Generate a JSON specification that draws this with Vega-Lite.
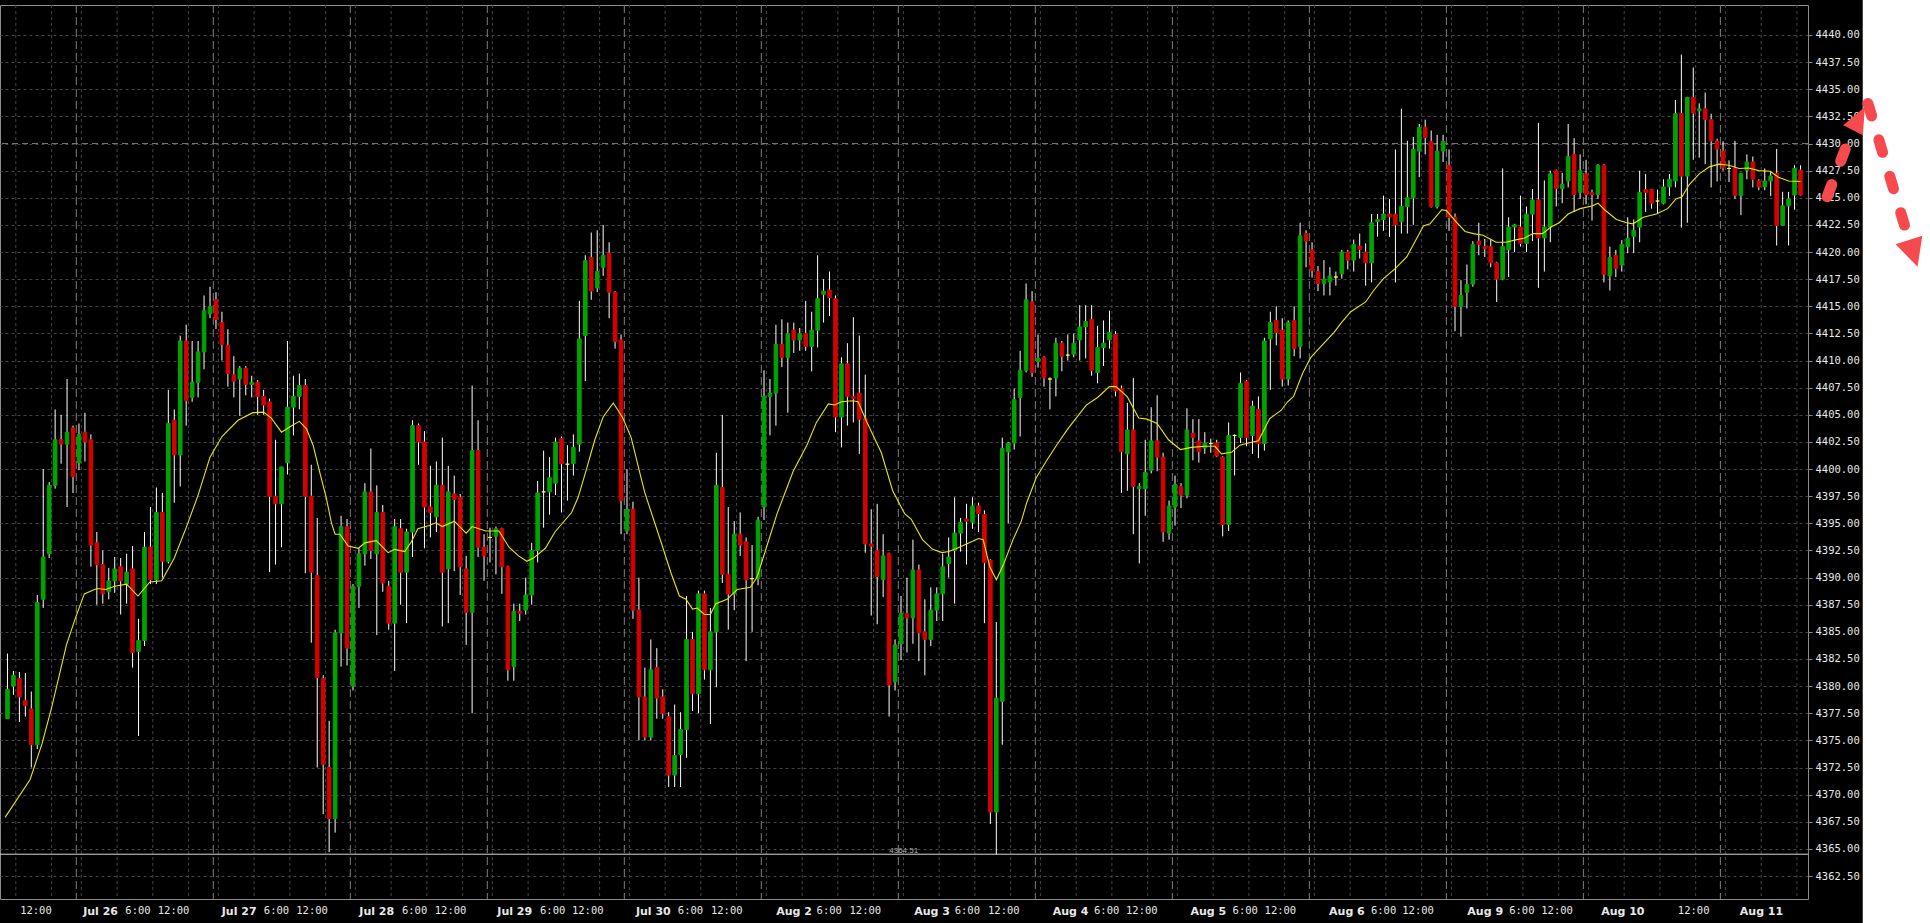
{
"$schema":"https://vega.github.io/schema/vega-lite/v6.json",
"width":1808,"height":894,
"autosize":{"type":"none"},
"padding":{"left":0,"top":5,"right":122,"bottom":24},
"background":"#000000",
"view":{"stroke":"#8c8c8c","strokeWidth":1,"fill":"#000000"},
"config":{
 "axis":{"labelOverlap":false,"labelBound":false,"labelFlush":false},
 "axisX":{"grid":false,"ticks":false,"tickSize":0,"domain":false,"labelAlign":"left","labelBaseline":"top","labelPadding":6,"labelColor":"#e8e8e8","labelFont":"DejaVu Sans Mono","labelFontSize":10.5,"labelOverlap":false},
 "axisY":{"grid":true,"gridColor":"#454545","gridDash":[3,3],"gridWidth":1,"ticks":true,"tickSize":4,"tickColor":"#8c8c8c","labelPadding":3,"labelFont":"DejaVu Sans Mono","labelFontSize":10.5,"labelColor":"#e8e8e8","domain":false,"labelOverlap":false}
},
"datasets":{
"candles":[
{"i":0,"o":4377.0,"h":4383.0,"l":4377.0,"c":4379.7},
{"i":1,"o":4380.0,"h":4381.4,"l":4379.2,"c":4381.0},
{"i":2,"o":4380.7,"h":4381.3,"l":4376.7,"c":4379.0},
{"i":3,"o":4378.7,"h":4381.2,"l":4377.2,"c":4378.2},
{"i":4,"o":4377.9,"h":4379.5,"l":4372.5,"c":4374.6},
{"i":5,"o":4374.6,"h":4388.4,"l":4374.2,"c":4387.7},
{"i":6,"o":4388.0,"h":4400.0,"l":4387.2,"c":4391.9},
{"i":7,"o":4392.2,"h":4398.8,"l":4391.8,"c":4398.5},
{"i":8,"o":4398.5,"h":4405.5,"l":4398.2,"c":4402.7},
{"i":9,"o":4402.7,"h":4405.0,"l":4400.5,"c":4402.3},
{"i":10,"o":4402.3,"h":4408.3,"l":4396.5,"c":4403.4},
{"i":11,"o":4403.8,"h":4404.0,"l":4397.8,"c":4399.3},
{"i":12,"o":4400.6,"h":4404.2,"l":4399.9,"c":4403.2},
{"i":13,"o":4403.4,"h":4405.2,"l":4400.7,"c":4402.5},
{"i":14,"o":4402.7,"h":4403.2,"l":4391.0,"c":4393.0},
{"i":15,"o":4393.2,"h":4394.2,"l":4387.5,"c":4391.2},
{"i":16,"o":4391.2,"h":4392.5,"l":4387.6,"c":4388.5},
{"i":17,"o":4388.7,"h":4390.9,"l":4388.0,"c":4389.7},
{"i":18,"o":4389.7,"h":4391.9,"l":4388.6,"c":4390.8},
{"i":19,"o":4391.0,"h":4391.8,"l":4386.6,"c":4389.7},
{"i":20,"o":4389.4,"h":4392.2,"l":4387.6,"c":4390.5},
{"i":21,"o":4390.8,"h":4392.9,"l":4381.7,"c":4383.1},
{"i":22,"o":4383.2,"h":4386.2,"l":4375.4,"c":4384.2},
{"i":23,"o":4384.2,"h":4394.2,"l":4383.7,"c":4392.8},
{"i":24,"o":4392.8,"h":4396.5,"l":4389.4,"c":4389.8},
{"i":25,"o":4389.8,"h":4398.3,"l":4389.4,"c":4396.0},
{"i":26,"o":4396.0,"h":4397.8,"l":4390.0,"c":4391.5},
{"i":27,"o":4391.5,"h":4407.3,"l":4391.3,"c":4404.2},
{"i":28,"o":4404.5,"h":4405.5,"l":4396.9,"c":4401.3},
{"i":29,"o":4401.3,"h":4412.3,"l":4398.4,"c":4411.8},
{"i":30,"o":4411.8,"h":4413.3,"l":4404.0,"c":4406.3},
{"i":31,"o":4406.6,"h":4411.8,"l":4406.2,"c":4408.0},
{"i":32,"o":4408.0,"h":4411.8,"l":4406.6,"c":4410.8},
{"i":33,"o":4410.8,"h":4416.0,"l":4409.2,"c":4414.6},
{"i":34,"o":4414.3,"h":4416.8,"l":4413.9,"c":4415.0},
{"i":35,"o":4415.6,"h":4416.3,"l":4412.9,"c":4413.8},
{"i":36,"o":4413.5,"h":4414.5,"l":4410.0,"c":4411.5},
{"i":37,"o":4411.4,"h":4412.9,"l":4407.6,"c":4408.8},
{"i":38,"o":4408.7,"h":4410.4,"l":4406.6,"c":4408.1},
{"i":39,"o":4408.3,"h":4409.5,"l":4404.9,"c":4409.3},
{"i":40,"o":4409.3,"h":4409.5,"l":4406.8,"c":4407.8},
{"i":41,"o":4407.8,"h":4408.6,"l":4406.6,"c":4408.0},
{"i":42,"o":4408.0,"h":4408.2,"l":4405.0,"c":4406.7},
{"i":43,"o":4406.7,"h":4407.3,"l":4405.0,"c":4405.9},
{"i":44,"o":4406.2,"h":4406.5,"l":4390.5,"c":4397.5},
{"i":45,"o":4397.5,"h":4402.7,"l":4391.2,"c":4396.8},
{"i":46,"o":4396.8,"h":4400.2,"l":4392.8,"c":4400.2},
{"i":47,"o":4400.6,"h":4411.8,"l":4399.5,"c":4405.7},
{"i":48,"o":4405.7,"h":4408.6,"l":4403.1,"c":4406.7},
{"i":49,"o":4406.7,"h":4408.8,"l":4405.5,"c":4407.7},
{"i":50,"o":4407.7,"h":4408.3,"l":4390.4,"c":4397.5},
{"i":51,"o":4397.5,"h":4400.4,"l":4384.0,"c":4390.5},
{"i":52,"o":4390.2,"h":4395.5,"l":4372.5,"c":4380.8},
{"i":53,"o":4380.7,"h":4381.0,"l":4368.2,"c":4372.8},
{"i":54,"o":4372.5,"h":4376.8,"l":4364.7,"c":4367.8},
{"i":55,"o":4367.8,"h":4385.2,"l":4366.5,"c":4384.9},
{"i":56,"o":4384.9,"h":4395.7,"l":4381.8,"c":4394.7},
{"i":57,"o":4394.7,"h":4395.4,"l":4381.9,"c":4383.5},
{"i":58,"o":4380.0,"h":4389.4,"l":4379.6,"c":4389.2},
{"i":59,"o":4389.2,"h":4392.7,"l":4387.2,"c":4392.2},
{"i":60,"o":4392.2,"h":4398.7,"l":4391.1,"c":4397.9},
{"i":61,"o":4397.9,"h":4401.9,"l":4391.7,"c":4392.5},
{"i":62,"o":4392.2,"h":4398.5,"l":4384.7,"c":4396.0},
{"i":63,"o":4396.0,"h":4396.7,"l":4388.7,"c":4389.5},
{"i":64,"o":4389.2,"h":4389.7,"l":4385.2,"c":4385.8},
{"i":65,"o":4385.8,"h":4395.4,"l":4381.4,"c":4394.7},
{"i":66,"o":4394.5,"h":4395.4,"l":4387.5,"c":4390.5},
{"i":67,"o":4390.5,"h":4394.5,"l":4385.8,"c":4394.2},
{"i":68,"o":4394.2,"h":4404.5,"l":4391.9,"c":4404.0},
{"i":69,"o":4404.0,"h":4404.2,"l":4400.4,"c":4402.5},
{"i":70,"o":4402.5,"h":4403.5,"l":4392.7,"c":4396.5},
{"i":71,"o":4396.5,"h":4400.3,"l":4393.7,"c":4396.0},
{"i":72,"o":4395.6,"h":4400.7,"l":4394.2,"c":4398.5},
{"i":73,"o":4398.5,"h":4402.9,"l":4385.5,"c":4390.5},
{"i":74,"o":4390.8,"h":4400.3,"l":4385.8,"c":4397.9},
{"i":75,"o":4397.7,"h":4399.4,"l":4390.6,"c":4397.2},
{"i":76,"o":4397.4,"h":4397.7,"l":4388.4,"c":4391.0},
{"i":77,"o":4390.8,"h":4392.0,"l":4383.8,"c":4386.8},
{"i":78,"o":4386.8,"h":4407.7,"l":4377.5,"c":4401.7},
{"i":79,"o":4401.7,"h":4404.5,"l":4391.9,"c":4392.8},
{"i":80,"o":4392.8,"h":4394.0,"l":4389.7,"c":4392.0},
{"i":81,"o":4393.7,"h":4394.6,"l":4391.4,"c":4393.7},
{"i":82,"o":4393.8,"h":4394.7,"l":4390.3,"c":4394.5},
{"i":83,"o":4394.5,"h":4394.6,"l":4388.5,"c":4391.0},
{"i":84,"o":4391.0,"h":4391.1,"l":4380.5,"c":4381.5},
{"i":85,"o":4381.8,"h":4387.6,"l":4380.5,"c":4386.9},
{"i":86,"o":4386.9,"h":4387.6,"l":4386.0,"c":4386.7},
{"i":87,"o":4387.0,"h":4390.0,"l":4386.6,"c":4388.4},
{"i":88,"o":4388.4,"h":4393.2,"l":4387.5,"c":4392.5},
{"i":89,"o":4392.5,"h":4398.9,"l":4391.4,"c":4397.8},
{"i":90,"o":4397.9,"h":4401.7,"l":4394.6,"c":4397.9},
{"i":91,"o":4397.9,"h":4401.1,"l":4395.8,"c":4399.2},
{"i":92,"o":4398.7,"h":4402.9,"l":4397.6,"c":4402.5},
{"i":93,"o":4402.8,"h":4403.0,"l":4396.0,"c":4400.5},
{"i":94,"o":4400.45,"h":4402.2,"l":4397.1,"c":4400.45},
{"i":95,"o":4400.5,"h":4403.2,"l":4399.4,"c":4402.0},
{"i":96,"o":4402.3,"h":4415.5,"l":4401.6,"c":4412.0},
{"i":97,"o":4412.3,"h":4419.7,"l":4408.1,"c":4419.2},
{"i":98,"o":4419.5,"h":4421.8,"l":4415.6,"c":4416.4},
{"i":99,"o":4416.7,"h":4422.0,"l":4416.3,"c":4418.2},
{"i":100,"o":4418.6,"h":4422.5,"l":4417.8,"c":4419.7},
{"i":101,"o":4419.9,"h":4420.9,"l":4413.9,"c":4416.3},
{"i":102,"o":4416.3,"h":4416.4,"l":4411.1,"c":4411.75},
{"i":103,"o":4411.9,"h":4412.4,"l":4394.0,"c":4397.1},
{"i":104,"o":4394.3,"h":4400.0,"l":4394.0,"c":4396.3},
{"i":105,"o":4396.3,"h":4397.0,"l":4386.2,"c":4387.0},
{"i":106,"o":4387.0,"h":4390.0,"l":4375.0,"c":4379.0},
{"i":107,"o":4379.0,"h":4381.7,"l":4375.0,"c":4375.3},
{"i":108,"o":4375.3,"h":4384.3,"l":4375.0,"c":4381.5},
{"i":109,"o":4381.7,"h":4383.5,"l":4377.0,"c":4378.9},
{"i":110,"o":4379.0,"h":4379.7,"l":4377.0,"c":4377.5},
{"i":111,"o":4377.2,"h":4377.6,"l":4370.7,"c":4371.8},
{"i":112,"o":4371.8,"h":4378.3,"l":4370.7,"c":4373.6},
{"i":113,"o":4373.7,"h":4377.6,"l":4370.7,"c":4376.0},
{"i":114,"o":4376.0,"h":4388.3,"l":4373.4,"c":4384.3},
{"i":115,"o":4384.3,"h":4385.0,"l":4377.7,"c":4379.3},
{"i":116,"o":4379.3,"h":4388.8,"l":4377.5,"c":4388.5},
{"i":117,"o":4388.5,"h":4388.8,"l":4380.6,"c":4381.5},
{"i":118,"o":4381.5,"h":4387.2,"l":4376.5,"c":4385.0},
{"i":119,"o":4385.0,"h":4401.5,"l":4379.9,"c":4398.5},
{"i":120,"o":4398.3,"h":4405.0,"l":4389.5,"c":4390.3},
{"i":121,"o":4390.3,"h":4396.5,"l":4385.2,"c":4388.5},
{"i":122,"o":4388.5,"h":4395.2,"l":4387.0,"c":4394.0},
{"i":123,"o":4394.0,"h":4396.0,"l":4392.0,"c":4393.0},
{"i":124,"o":4393.3,"h":4393.7,"l":4382.3,"c":4389.8},
{"i":125,"o":4389.9,"h":4393.0,"l":4385.0,"c":4389.9},
{"i":126,"o":4389.9,"h":4395.6,"l":4389.3,"c":4395.3},
{"i":127,"o":4396.5,"h":4409.1,"l":4395.3,"c":4406.7},
{"i":128,"o":4406.7,"h":4408.3,"l":4403.1,"c":4407.0},
{"i":129,"o":4407.0,"h":4413.3,"l":4404.0,"c":4411.5},
{"i":130,"o":4411.5,"h":4413.8,"l":4409.4,"c":4410.3},
{"i":131,"o":4410.3,"h":4413.5,"l":4405.2,"c":4412.5},
{"i":132,"o":4412.8,"h":4413.5,"l":4410.7,"c":4411.9},
{"i":133,"o":4411.9,"h":4413.0,"l":4410.9,"c":4412.5},
{"i":134,"o":4412.5,"h":4415.5,"l":4410.9,"c":4411.3},
{"i":135,"o":4411.3,"h":4414.5,"l":4409.0,"c":4412.8},
{"i":136,"o":4412.8,"h":4419.7,"l":4411.2,"c":4415.7},
{"i":137,"o":4416.1,"h":4417.5,"l":4413.5,"c":4416.4},
{"i":138,"o":4416.5,"h":4418.2,"l":4414.1,"c":4415.8},
{"i":139,"o":4415.7,"h":4416.0,"l":4403.4,"c":4404.8},
{"i":140,"o":4404.8,"h":4410.3,"l":4402.0,"c":4409.7},
{"i":141,"o":4409.7,"h":4411.6,"l":4404.0,"c":4406.7},
{"i":142,"o":4406.7,"h":4414.0,"l":4404.3,"c":4406.5},
{"i":143,"o":4407.0,"h":4412.3,"l":4401.4,"c":4404.6},
{"i":144,"o":4404.7,"h":4408.7,"l":4392.3,"c":4393.1},
{"i":145,"o":4393.1,"h":4396.3,"l":4386.5,"c":4392.9},
{"i":146,"o":4392.5,"h":4396.8,"l":4385.7,"c":4390.1},
{"i":147,"o":4389.8,"h":4394.0,"l":4388.2,"c":4392.0},
{"i":148,"o":4392.2,"h":4392.3,"l":4377.2,"c":4380.1},
{"i":149,"o":4380.4,"h":4384.3,"l":4379.6,"c":4383.8},
{"i":150,"o":4383.9,"h":4388.3,"l":4382.4,"c":4386.7},
{"i":151,"o":4386.7,"h":4390.0,"l":4383.1,"c":4386.3},
{"i":152,"o":4386.3,"h":4393.5,"l":4383.9,"c":4390.7},
{"i":153,"o":4390.7,"h":4391.2,"l":4382.3,"c":4384.9},
{"i":154,"o":4385.0,"h":4388.0,"l":4381.0,"c":4384.3},
{"i":155,"o":4384.3,"h":4389.1,"l":4383.7,"c":4387.0},
{"i":156,"o":4387.0,"h":4389.1,"l":4386.0,"c":4388.5},
{"i":157,"o":4388.5,"h":4392.2,"l":4386.0,"c":4391.0},
{"i":158,"o":4391.3,"h":4393.7,"l":4390.0,"c":4391.9},
{"i":159,"o":4392.5,"h":4397.4,"l":4387.6,"c":4394.1},
{"i":160,"o":4394.1,"h":4395.5,"l":4392.4,"c":4395.1},
{"i":161,"o":4395.4,"h":4396.8,"l":4391.2,"c":4395.2},
{"i":162,"o":4395.1,"h":4397.4,"l":4394.5,"c":4396.6},
{"i":163,"o":4396.6,"h":4396.9,"l":4394.2,"c":4395.9},
{"i":164,"o":4395.8,"h":4396.2,"l":4385.8,"c":4391.4},
{"i":165,"o":4391.6,"h":4391.7,"l":4367.3,"c":4368.4},
{"i":166,"o":4368.4,"h":4385.9,"l":4364.51,"c":4378.9},
{"i":167,"o":4378.6,"h":4402.9,"l":4374.6,"c":4401.9},
{"i":168,"o":4401.6,"h":4402.5,"l":4395.0,"c":4402.4},
{"i":169,"o":4402.4,"h":4407.4,"l":4401.8,"c":4406.4},
{"i":170,"o":4406.6,"h":4410.9,"l":4403.0,"c":4409.1},
{"i":171,"o":4409.1,"h":4417.1,"l":4408.9,"c":4415.6},
{"i":172,"o":4415.4,"h":4416.4,"l":4408.5,"c":4408.9},
{"i":173,"o":4409.9,"h":4412.4,"l":4409.35,"c":4410.2},
{"i":174,"o":4410.3,"h":4410.4,"l":4407.6,"c":4408.4},
{"i":175,"o":4408.3,"h":4408.45,"l":4405.5,"c":4408.3},
{"i":176,"o":4408.4,"h":4412.1,"l":4406.7,"c":4411.6},
{"i":177,"o":4411.6,"h":4411.8,"l":4409.0,"c":4410.4},
{"i":178,"o":4410.5,"h":4412.4,"l":4410.0,"c":4410.5},
{"i":179,"o":4410.6,"h":4412.5,"l":4410.3,"c":4411.6},
{"i":180,"o":4411.9,"h":4415.1,"l":4410.0,"c":4413.1},
{"i":181,"o":4413.1,"h":4415.1,"l":4410.2,"c":4413.6},
{"i":182,"o":4413.8,"h":4415.1,"l":4408.6,"c":4409.1},
{"i":183,"o":4408.9,"h":4413.2,"l":4407.9,"c":4411.2},
{"i":184,"o":4411.2,"h":4413.7,"l":4409.5,"c":4411.6},
{"i":185,"o":4411.9,"h":4414.6,"l":4411.1,"c":4412.6},
{"i":186,"o":4412.4,"h":4412.7,"l":4406.7,"c":4407.2},
{"i":187,"o":4407.4,"h":4407.7,"l":4397.8,"c":4401.6},
{"i":188,"o":4401.4,"h":4406.1,"l":4398.0,"c":4403.6},
{"i":189,"o":4403.6,"h":4408.4,"l":4394.0,"c":4398.4},
{"i":190,"o":4398.2,"h":4398.7,"l":4391.3,"c":4398.4},
{"i":191,"o":4398.2,"h":4402.7,"l":4395.7,"c":4399.7},
{"i":192,"o":4399.9,"h":4405.7,"l":4399.6,"c":4402.6},
{"i":193,"o":4402.6,"h":4406.8,"l":4399.8,"c":4401.1},
{"i":194,"o":4401.1,"h":4401.5,"l":4393.3,"c":4394.2},
{"i":195,"o":4394.1,"h":4397.1,"l":4393.5,"c":4396.6},
{"i":196,"o":4396.5,"h":4399.4,"l":4394.8,"c":4398.6},
{"i":197,"o":4398.4,"h":4398.7,"l":4396.4,"c":4397.6},
{"i":198,"o":4397.6,"h":4405.6,"l":4397.3,"c":4403.6},
{"i":199,"o":4403.3,"h":4404.6,"l":4400.8,"c":4402.9},
{"i":200,"o":4402.6,"h":4404.6,"l":4400.6,"c":4401.6},
{"i":201,"o":4401.95,"h":4403.4,"l":4401.4,"c":4402.4},
{"i":202,"o":4402.35,"h":4402.8,"l":4401.5,"c":4402.35},
{"i":203,"o":4402.4,"h":4402.7,"l":4401.1,"c":4401.2},
{"i":204,"o":4401.1,"h":4401.2,"l":4393.8,"c":4394.9},
{"i":205,"o":4394.9,"h":4404.3,"l":4394.3,"c":4403.1},
{"i":206,"o":4403.1,"h":4403.2,"l":4399.4,"c":4403.1},
{"i":207,"o":4402.9,"h":4408.9,"l":4402.4,"c":4407.9},
{"i":208,"o":4408.1,"h":4408.2,"l":4402.1,"c":4402.9},
{"i":209,"o":4403.1,"h":4406.3,"l":4401.4,"c":4405.8},
{"i":210,"o":4405.5,"h":4406.7,"l":4401.0,"c":4402.35},
{"i":211,"o":4402.35,"h":4412.1,"l":4401.7,"c":4411.8},
{"i":212,"o":4412.0,"h":4414.5,"l":4407.3,"c":4413.5},
{"i":213,"o":4413.7,"h":4415.0,"l":4411.4,"c":4412.6},
{"i":214,"o":4412.8,"h":4413.9,"l":4407.6,"c":4408.3},
{"i":215,"o":4408.3,"h":4413.7,"l":4407.7,"c":4413.5},
{"i":216,"o":4413.7,"h":4415.0,"l":4410.4,"c":4411.1},
{"i":217,"o":4411.3,"h":4422.7,"l":4410.2,"c":4421.5},
{"i":218,"o":4421.7,"h":4422.0,"l":4418.6,"c":4421.0},
{"i":219,"o":4420.2,"h":4420.9,"l":4417.65,"c":4418.3},
{"i":220,"o":4418.2,"h":4418.7,"l":4416.4,"c":4417.1},
{"i":221,"o":4417.1,"h":4419.25,"l":4416.0,"c":4417.5},
{"i":222,"o":4417.25,"h":4418.6,"l":4416.0,"c":4417.8},
{"i":223,"o":4417.7,"h":4418.2,"l":4416.9,"c":4417.7},
{"i":224,"o":4418.0,"h":4420.2,"l":4417.55,"c":4420.0},
{"i":225,"o":4420.0,"h":4420.2,"l":4418.4,"c":4419.25},
{"i":226,"o":4419.25,"h":4421.15,"l":4418.2,"c":4420.7},
{"i":227,"o":4420.55,"h":4421.7,"l":4419.4,"c":4420.25},
{"i":228,"o":4420.0,"h":4420.8,"l":4416.9,"c":4419.0},
{"i":229,"o":4419.0,"h":4423.5,"l":4417.2,"c":4422.7},
{"i":230,"o":4422.8,"h":4423.5,"l":4421.4,"c":4423.0},
{"i":231,"o":4423.0,"h":4425.2,"l":4421.95,"c":4423.5},
{"i":232,"o":4423.5,"h":4424.9,"l":4421.4,"c":4423.25},
{"i":233,"o":4423.5,"h":4429.45,"l":4417.2,"c":4422.5},
{"i":234,"o":4422.8,"h":4433.2,"l":4421.7,"c":4424.2},
{"i":235,"o":4424.2,"h":4430.25,"l":4421.7,"c":4425.0},
{"i":236,"o":4425.0,"h":4430.6,"l":4422.5,"c":4429.45},
{"i":237,"o":4429.3,"h":4431.8,"l":4426.9,"c":4431.5},
{"i":238,"o":4431.5,"h":4432.2,"l":4429.0,"c":4430.55},
{"i":239,"o":4430.2,"h":4431.2,"l":4424.1,"c":4424.2},
{"i":240,"o":4424.2,"h":4430.8,"l":4424.0,"c":4429.3},
{"i":241,"o":4429.3,"h":4430.8,"l":4428.3,"c":4430.2},
{"i":242,"o":4428.0,"h":4429.45,"l":4421.95,"c":4423.2},
{"i":243,"o":4423.2,"h":4423.55,"l":4412.7,"c":4415.0},
{"i":244,"o":4415.0,"h":4417.4,"l":4412.2,"c":4416.0},
{"i":245,"o":4416.3,"h":4418.85,"l":4414.8,"c":4417.0},
{"i":246,"o":4417.05,"h":4421.0,"l":4416.8,"c":4420.7},
{"i":247,"o":4421.0,"h":4422.7,"l":4419.7,"c":4420.7},
{"i":248,"o":4420.5,"h":4421.2,"l":4419.55,"c":4420.3},
{"i":249,"o":4420.5,"h":4421.15,"l":4418.6,"c":4419.0},
{"i":250,"o":4419.0,"h":4419.1,"l":4415.4,"c":4417.5},
{"i":251,"o":4417.5,"h":4427.7,"l":4417.4,"c":4420.5},
{"i":252,"o":4420.2,"h":4423.2,"l":4417.7,"c":4422.3},
{"i":253,"o":4422.3,"h":4422.6,"l":4420.0,"c":4422.5},
{"i":254,"o":4422.3,"h":4425.2,"l":4420.5,"c":4420.8},
{"i":255,"o":4420.8,"h":4424.2,"l":4420.0,"c":4423.5},
{"i":256,"o":4423.5,"h":4425.8,"l":4421.0,"c":4424.8},
{"i":257,"o":4424.8,"h":4431.9,"l":4416.7,"c":4421.3},
{"i":258,"o":4421.3,"h":4426.6,"l":4418.2,"c":4422.3},
{"i":259,"o":4422.3,"h":4427.5,"l":4420.9,"c":4427.2},
{"i":260,"o":4427.5,"h":4427.6,"l":4424.2,"c":4425.85},
{"i":261,"o":4425.85,"h":4427.3,"l":4424.5,"c":4426.25},
{"i":262,"o":4426.55,"h":4431.8,"l":4425.95,"c":4428.8},
{"i":263,"o":4429.0,"h":4430.5,"l":4423.7,"c":4425.3},
{"i":264,"o":4425.5,"h":4429.0,"l":4424.9,"c":4427.5},
{"i":265,"o":4427.2,"h":4428.5,"l":4424.4,"c":4425.3},
{"i":266,"o":4425.5,"h":4425.75,"l":4422.9,"c":4425.3},
{"i":267,"o":4425.3,"h":4428.1,"l":4424.9,"c":4428.0},
{"i":268,"o":4428.0,"h":4428.1,"l":4417.2,"c":4417.95},
{"i":269,"o":4417.8,"h":4420.5,"l":4416.45,"c":4419.5},
{"i":270,"o":4419.7,"h":4420.2,"l":4417.7,"c":4418.5},
{"i":271,"o":4418.8,"h":4421.1,"l":4418.2,"c":4420.7},
{"i":272,"o":4420.5,"h":4423.2,"l":4419.9,"c":4421.25},
{"i":273,"o":4421.45,"h":4423.0,"l":4419.9,"c":4422.0},
{"i":274,"o":4422.3,"h":4427.5,"l":4420.9,"c":4425.5},
{"i":275,"o":4425.75,"h":4427.2,"l":4423.7,"c":4425.5},
{"i":276,"o":4425.75,"h":4425.8,"l":4424.0,"c":4424.5},
{"i":277,"o":4424.7,"h":4425.75,"l":4423.5,"c":4424.7},
{"i":278,"o":4424.5,"h":4426.7,"l":4424.4,"c":4426.0},
{"i":279,"o":4426.0,"h":4427.2,"l":4425.15,"c":4426.7},
{"i":280,"o":4426.55,"h":4434.0,"l":4425.95,"c":4432.75},
{"i":281,"o":4432.75,"h":4438.2,"l":4422.25,"c":4427.0},
{"i":282,"o":4427.0,"h":4434.3,"l":4422.7,"c":4434.25},
{"i":283,"o":4434.25,"h":4437.0,"l":4428.5,"c":4432.8},
{"i":284,"o":4433.0,"h":4433.7,"l":4428.7,"c":4433.2},
{"i":285,"o":4433.2,"h":4434.7,"l":4428.1,"c":4432.2},
{"i":286,"o":4432.2,"h":4432.75,"l":4425.95,"c":4430.25},
{"i":287,"o":4430.2,"h":4430.45,"l":4426.5,"c":4429.5},
{"i":288,"o":4429.3,"h":4430.2,"l":4427.5,"c":4427.75},
{"i":289,"o":4427.7,"h":4428.45,"l":4426.45,"c":4427.7},
{"i":290,"o":4427.7,"h":4430.25,"l":4424.9,"c":4425.2},
{"i":291,"o":4425.2,"h":4427.3,"l":4423.4,"c":4427.25},
{"i":292,"o":4427.55,"h":4429.0,"l":4426.7,"c":4428.3},
{"i":293,"o":4428.3,"h":4428.8,"l":4425.95,"c":4426.7},
{"i":294,"o":4426.55,"h":4426.7,"l":4425.7,"c":4426.0},
{"i":295,"o":4426.0,"h":4427.7,"l":4425.7,"c":4426.55},
{"i":296,"o":4426.55,"h":4427.4,"l":4425.15,"c":4427.0},
{"i":297,"o":4427.25,"h":4429.5,"l":4420.6,"c":4422.45},
{"i":298,"o":4422.45,"h":4425.55,"l":4422.4,"c":4424.25},
{"i":299,"o":4424.25,"h":4425.55,"l":4420.6,"c":4424.9},
{"i":300,"o":4425.25,"h":4428.0,"l":4423.9,"c":4427.7},
{"i":301,"o":4427.55,"h":4428.0,"l":4425.2,"c":4425.25}
],
"ma":[
{"i":-0.4,"v":4367.9},{"i":3.8,"v":4371.4},{"i":5.8,"v":4374.7},{"i":7.4,"v":4378.0},{"i":9.9,"v":4383.8},{"i":11.3,"v":4386.1},{"i":12.9,"v":4388.5},{"i":15,"v":4389.0},{"i":16.5,"v":4388.9},{"i":18,"v":4389.2},{"i":20,"v":4389.4},{"i":21.9,"v":4388.3},{"i":23.9,"v":4389.6},{"i":25.9,"v":4389.7},{"i":28,"v":4391.8},{"i":30,"v":4394.6},{"i":32,"v":4397.6},{"i":34,"v":4401.1},{"i":36,"v":4403.0},{"i":38.7,"v":4404.5},{"i":41.2,"v":4405.2},{"i":43,"v":4405.25},{"i":44.3,"v":4404.7},{"i":46,"v":4403.4},{"i":47.7,"v":4404.0},{"i":49,"v":4404.4},{"i":50.2,"v":4403.7},{"i":51.3,"v":4402.2},{"i":52.4,"v":4399.75},{"i":53.5,"v":4397.4},{"i":54.4,"v":4395.0},{"i":55,"v":4394.0},{"i":55.8,"v":4394.0},{"i":57.2,"v":4392.9},{"i":58.9,"v":4392.7},{"i":60,"v":4393.2},{"i":61.9,"v":4393.4},{"i":63.9,"v":4392.3},{"i":65,"v":4392.6},{"i":66.7,"v":4392.4},{"i":67.8,"v":4393.3},{"i":68.9,"v":4394.5},{"i":70.8,"v":4394.8},{"i":71.9,"v":4395.05},{"i":73,"v":4394.7},{"i":75,"v":4395.2},{"i":77,"v":4394.1},{"i":78,"v":4394.7},{"i":80.3,"v":4394.3},{"i":82.5,"v":4394.3},{"i":84.2,"v":4392.8},{"i":85.8,"v":4392.0},{"i":87.2,"v":4391.5},{"i":88.3,"v":4391.8},{"i":90.3,"v":4392.7},{"i":91.9,"v":4394.2},{"i":94.7,"v":4396.0},{"i":95.8,"v":4397.4},{"i":97.2,"v":4400.0},{"i":98.6,"v":4402.7},{"i":100,"v":4404.8},{"i":101.7,"v":4406.1},{"i":103.3,"v":4404.7},{"i":104.7,"v":4402.9},{"i":106.4,"v":4399.1},{"i":107,"v":4397.8},{"i":109.7,"v":4393.3},{"i":111.4,"v":4390.4},{"i":112.8,"v":4388.3},{"i":113.9,"v":4388.0},{"i":115,"v":4387.1},{"i":115.8,"v":4387.2},{"i":117,"v":4386.6},{"i":118,"v":4386.6},{"i":118.9,"v":4387.6},{"i":120.8,"v":4388.0},{"i":122.5,"v":4388.9},{"i":124.7,"v":4389.1},{"i":125.8,"v":4390.0},{"i":126.9,"v":4391.9},{"i":129.2,"v":4395.9},{"i":131.9,"v":4399.8},{"i":134.2,"v":4402.2},{"i":135.8,"v":4404.3},{"i":137.8,"v":4406.0},{"i":138.9,"v":4405.9},{"i":140,"v":4406.2},{"i":141.9,"v":4406.3},{"i":142.8,"v":4406.2},{"i":144.2,"v":4404.4},{"i":146.7,"v":4401.5},{"i":148.6,"v":4398.0},{"i":150.6,"v":4395.9},{"i":151.7,"v":4395.4},{"i":153.6,"v":4393.5},{"i":155.3,"v":4392.6},{"i":156.9,"v":4392.3},{"i":158,"v":4392.4},{"i":159.4,"v":4392.7},{"i":161,"v":4393.1},{"i":163,"v":4393.6},{"i":163.8,"v":4393.5},{"i":164.9,"v":4391.0},{"i":166,"v":4389.8},{"i":167.2,"v":4391.2},{"i":168.8,"v":4393.5},{"i":170.2,"v":4395.2},{"i":171.1,"v":4396.9},{"i":172.7,"v":4399.2},{"i":174.4,"v":4400.75},{"i":176,"v":4402.1},{"i":178,"v":4403.7},{"i":179.4,"v":4404.7},{"i":181.1,"v":4405.9},{"i":183,"v":4406.6},{"i":185,"v":4407.6},{"i":186.1,"v":4407.6},{"i":188,"v":4406.65},{"i":189.9,"v":4404.7},{"i":191.3,"v":4404.6},{"i":193,"v":4404.2},{"i":194.9,"v":4402.7},{"i":196.9,"v":4401.8},{"i":198.8,"v":4402.0},{"i":201,"v":4402.1},{"i":202.7,"v":4402.1},{"i":203.8,"v":4401.4},{"i":205.5,"v":4401.55},{"i":206.9,"v":4402.2},{"i":208.3,"v":4402.4},{"i":210,"v":4402.6},{"i":211.9,"v":4404.65},{"i":213.8,"v":4405.4},{"i":214.9,"v":4406.2},{"i":215.9,"v":4406.7},{"i":217.4,"v":4408.8},{"i":218.8,"v":4410.3},{"i":220.5,"v":4411.3},{"i":222.7,"v":4412.6},{"i":223.8,"v":4413.4},{"i":225.5,"v":4414.5},{"i":228,"v":4415.4},{"i":229.4,"v":4416.5},{"i":231,"v":4417.55},{"i":233,"v":4418.5},{"i":234.9,"v":4419.55},{"i":237.7,"v":4422.4},{"i":238.8,"v":4422.6},{"i":240.8,"v":4423.9},{"i":241.6,"v":4423.8},{"i":243,"v":4422.9},{"i":244.7,"v":4421.9},{"i":246.1,"v":4421.7},{"i":247.7,"v":4421.55},{"i":249.9,"v":4420.9},{"i":251.6,"v":4420.9},{"i":253,"v":4421.1},{"i":254.7,"v":4421.3},{"i":256.1,"v":4421.7},{"i":257.7,"v":4421.7},{"i":259.1,"v":4422.3},{"i":260.5,"v":4422.7},{"i":262,"v":4423.5},{"i":264,"v":4424.0},{"i":266,"v":4424.25},{"i":267,"v":4424.5},{"i":268.2,"v":4423.85},{"i":270.1,"v":4423.0},{"i":271.8,"v":4422.7},{"i":272.9,"v":4422.6},{"i":274.6,"v":4423.2},{"i":276.8,"v":4423.5},{"i":278.7,"v":4424.0},{"i":280.1,"v":4424.9},{"i":281.1,"v":4425.1},{"i":282.3,"v":4426.2},{"i":284,"v":4427.2},{"i":285.7,"v":4427.85},{"i":287.3,"v":4428.1},{"i":289,"v":4428.0},{"i":290.7,"v":4427.7},{"i":292.3,"v":4427.75},{"i":294,"v":4427.5},{"i":295.9,"v":4427.45},{"i":297.3,"v":4426.9},{"i":299,"v":4426.55},{"i":301,"v":4426.5}
],
"vgrid":[{"i":1.4},{"i":7.4},{"i":12.4},{"i":18.4},{"i":24.4},{"i":30.4},{"i":35.4},{"i":41.4},{"i":47.4},{"i":53.4},{"i":58.4},{"i":64.4},{"i":70.4},{"i":76.4},{"i":81.4},{"i":87.4},{"i":93.4},{"i":99.4},{"i":104.4},{"i":110.4},{"i":116.4},{"i":122.4},{"i":127.4},{"i":133.4},{"i":139.4},{"i":145.4},{"i":150.4},{"i":156.4},{"i":162.4},{"i":168.4},{"i":173.4},{"i":179.4},{"i":185.4},{"i":191.4},{"i":196.4},{"i":202.4},{"i":208.4},{"i":214.4},{"i":219.4},{"i":225.4},{"i":231.4},{"i":237.4},{"i":242.4},{"i":248.4},{"i":254.4},{"i":260.4},{"i":265.4},{"i":271.4},{"i":277.4},{"i":283.4},{"i":288.4},{"i":294.4},{"i":300.4}],
"seps":[{"i":11.55},{"i":34.55},{"i":57.55},{"i":80.55},{"i":103.55},{"i":126.55},{"i":149.55},{"i":172.55},{"i":195.55},{"i":218.55},{"i":241.55},{"i":264.55},{"i":287.55}],
"levels":[{"kind":"hline","p":4430},{"kind":"low","p":4364.51}],
"arrows":[{"g":"a1","i":305.48,"p":4425.10},{"g":"a1","i":309.73,"p":4431.25},{"g":"a2","i":312.32,"p":4433.69},{"g":"a2","i":319.2,"p":4421.11}],
"heads":[{"g":"a1","i":310.81,"p":4432.29},{"g":"a2","i":319.93,"p":4419.88}]
},
"layer":[
{"data":{"name":"vgrid"},"mark":{"type":"rule","color":"#454545","strokeWidth":1,"strokeDash":[3,3]},
 "encoding":{
 "x":{"field":"i","type":"quantitative","title":null,"scale":{"domain":[-0.417,301.42],"nice":false,"zero":false},
  "axis":{"labelOverlap":false,"labelBound":false,"labelFlush":false,"values":[2.04,12.62,19.7,25.14,35.88,42.95,48.4,58.98,66.14,71.65,82.15,89.32,94.67,105.41,112.45,118.01,128.96,135.74,141.27,152.14,158.93,164.52,175.39,182.32,187.69,198.5,205.58,210.95,221.77,228.81,234.06,244.99,252.02,257.4,267.45,280.33,290.73],
  "labelExpr":"['12:00','Jul 26','6:00','12:00','Jul 27','6:00','12:00','Jul 28','6:00','12:00','Jul 29','6:00','12:00','Jul 30','6:00','12:00','Aug 2','6:00','12:00','Aug 3','6:00','12:00','Aug 4','6:00','12:00','Aug 5','6:00','12:00','Aug 6','6:00','12:00','Aug 9','6:00','12:00','Aug 10','12:00','Aug 11'][indexof([2.04,12.62,19.7,25.14,35.88,42.95,48.4,58.98,66.14,71.65,82.15,89.32,94.67,105.41,112.45,118.01,128.96,135.74,141.27,152.14,158.93,164.52,175.39,182.32,187.69,198.5,205.58,210.95,221.77,228.81,234.06,244.99,252.02,257.4,267.45,280.33,290.73], datum.value)]",
  "labelFont":{"condition":{"test":"indexof([12.62,35.88,58.98,82.15,105.41,128.96,152.14,175.39,198.5,221.77,244.99,267.45,290.73], datum.value) >= 0","value":"DejaVu Sans"},"value":"DejaVu Sans Mono"},
  "labelFontWeight":{"condition":{"test":"indexof([12.62,35.88,58.98,82.15,105.41,128.96,152.14,175.39,198.5,221.77,244.99,267.45,290.73], datum.value) >= 0","value":"bold"},"value":"normal"},
  "labelFontSize":{"condition":{"test":"indexof([12.62,35.88,58.98,82.15,105.41,128.96,152.14,175.39,198.5,221.77,244.99,267.45,290.73], datum.value) >= 0","value":11},"value":10.5}}}}},
{"data":{"name":"levels"},"transform":[{"filter":"datum.kind=='hline'"}],"mark":{"type":"rule","color":"#727272","strokeWidth":1,"strokeDash":[6,4]},
 "encoding":{"y":{"field":"p","type":"quantitative","title":null,"scale":{"domain":[4360.383,4442.764],"nice":false,"zero":false},
  "axis":{"orient":"right","labelOverlap":false,"labelBound":false,"labelFlush":false,"values":[4362.5,4365,4367.5,4370,4372.5,4375,4377.5,4380,4382.5,4385,4387.5,4390,4392.5,4395,4397.5,4400,4402.5,4405,4407.5,4410,4412.5,4415,4417.5,4420,4422.5,4425,4427.5,4430,4432.5,4435,4437.5,4440],"format":".2f"}}}},
{"data":{"values":[{}]},"mark":{"type":"rect","color":"#ffffff","clip":false},
 "encoding":{"x":{"datum":311.45,"type":"quantitative","title":null,"scale":{"domain":[-0.417,301.42],"nice":false,"zero":false}},"x2":{"datum":340},
 "y":{"datum":4340,"type":"quantitative","title":null,"scale":{"domain":[4360.383,4442.764],"nice":false,"zero":false},
  "axis":{"orient":"right","labelOverlap":false,"labelBound":false,"labelFlush":false,"values":[4362.5,4365,4367.5,4370,4372.5,4375,4377.5,4380,4382.5,4385,4387.5,4390,4392.5,4395,4397.5,4400,4402.5,4405,4407.5,4410,4412.5,4415,4417.5,4420,4422.5,4425,4427.5,4430,4432.5,4435,4437.5,4440],"format":".2f"}},"y2":{"datum":4460}}},
{"data":{"name":"seps"},"mark":{"type":"rule","color":"#7f7f7f","strokeWidth":1,"strokeDash":[8,4]},
 "encoding":{"x":{"field":"i","type":"quantitative","title":null,"scale":{"domain":[-0.417,301.42],"nice":false,"zero":false}}}},
{"data":{"name":"levels"},"transform":[{"filter":"datum.kind=='low'"}],"mark":{"type":"rule","color":"#d8d8d8","strokeWidth":1},
 "encoding":{"y":{"field":"p","type":"quantitative","title":null,"scale":{"domain":[4360.383,4442.764],"nice":false,"zero":false},
  "axis":{"orient":"right","labelOverlap":false,"labelBound":false,"labelFlush":false,"values":[4362.5,4365,4367.5,4370,4372.5,4375,4377.5,4380,4382.5,4385,4387.5,4390,4392.5,4395,4397.5,4400,4402.5,4405,4407.5,4410,4412.5,4415,4417.5,4420,4422.5,4425,4427.5,4430,4432.5,4435,4437.5,4440],"format":".2f"}}}},
{"data":{"name":"levels"},"transform":[{"filter":"datum.kind=='low'"}],"mark":{"type":"text","color":"#b0b0b0","fontSize":8,"font":"Liberation Sans","align":"center","baseline":"alphabetic","dy":-1},
 "encoding":{"x":{"datum":150.45,"type":"quantitative","title":null,"scale":{"domain":[-0.417,301.42],"nice":false,"zero":false}},
 "y":{"field":"p","type":"quantitative","title":null,"scale":{"domain":[4360.383,4442.764],"nice":false,"zero":false},
  "axis":{"orient":"right","labelOverlap":false,"labelBound":false,"labelFlush":false,"values":[4362.5,4365,4367.5,4370,4372.5,4375,4377.5,4380,4382.5,4385,4387.5,4390,4392.5,4395,4397.5,4400,4402.5,4405,4407.5,4410,4412.5,4415,4417.5,4420,4422.5,4425,4427.5,4430,4432.5,4435,4437.5,4440],"format":".2f"}},
 "text":{"field":"p","type":"quantitative","format":".2f"}}},
{"data":{"name":"candles"},"mark":{"type":"rule","color":"#ffffff","strokeWidth":1},
 "encoding":{"x":{"field":"i","type":"quantitative","title":null,"scale":{"domain":[-0.417,301.42],"nice":false,"zero":false}},
 "y":{"field":"l","type":"quantitative","title":null,"scale":{"domain":[4360.383,4442.764],"nice":false,"zero":false},
  "axis":{"orient":"right","labelOverlap":false,"labelBound":false,"labelFlush":false,"values":[4362.5,4365,4367.5,4370,4372.5,4375,4377.5,4380,4382.5,4385,4387.5,4390,4392.5,4395,4397.5,4400,4402.5,4405,4407.5,4410,4412.5,4415,4417.5,4420,4422.5,4425,4427.5,4430,4432.5,4435,4437.5,4440],"format":".2f"}},
 "y2":{"field":"h"}}},
{"data":{"name":"candles"},"mark":{"type":"bar","width":3.6,"strokeWidth":1},
 "encoding":{
 "x":{"field":"i","type":"quantitative","title":null,"scale":{"domain":[-0.417,301.42],"nice":false,"zero":false}},
 "y":{"field":"o","type":"quantitative","title":null,"scale":{"domain":[4360.383,4442.764],"nice":false,"zero":false},
  "axis":{"orient":"right","labelOverlap":false,"labelBound":false,"labelFlush":false,"values":[4362.5,4365,4367.5,4370,4372.5,4375,4377.5,4380,4382.5,4385,4387.5,4390,4392.5,4395,4397.5,4400,4402.5,4405,4407.5,4410,4412.5,4415,4417.5,4420,4422.5,4425,4427.5,4430,4432.5,4435,4437.5,4440],"format":".2f"}},
 "y2":{"field":"c"},
 "fill":{"condition":[{"test":"datum.c > datum.o","value":"#00a300"},{"test":"datum.c < datum.o","value":"#d50000"}],"value":"#ffff00"},
 "stroke":{"condition":[{"test":"datum.c > datum.o","value":"#00a300"},{"test":"datum.c < datum.o","value":"#d50000"}],"value":"#ffff00"}}},
{"data":{"name":"ma"},"mark":{"type":"line","color":"#e8e800","strokeWidth":1.1},
 "encoding":{"x":{"field":"i","type":"quantitative","title":null,"scale":{"domain":[-0.417,301.42],"nice":false,"zero":false}},
 "y":{"field":"v","type":"quantitative","title":null,"scale":{"domain":[4360.383,4442.764],"nice":false,"zero":false},
  "axis":{"orient":"right","labelOverlap":false,"labelBound":false,"labelFlush":false,"values":[4362.5,4365,4367.5,4370,4372.5,4375,4377.5,4380,4382.5,4385,4387.5,4390,4392.5,4395,4397.5,4400,4402.5,4405,4407.5,4410,4412.5,4415,4417.5,4420,4422.5,4425,4427.5,4430,4432.5,4435,4437.5,4440],"format":".2f"}}}},
{"data":{"name":"arrows"},"mark":{"type":"line","color":"#f64a4e","strokeWidth":11,"strokeDash":[13,25],"strokeCap":"round","clip":false},
 "encoding":{"x":{"field":"i","type":"quantitative","title":null,"scale":{"domain":[-0.417,301.42],"nice":false,"zero":false}},
 "y":{"field":"p","type":"quantitative","title":null,"scale":{"domain":[4360.383,4442.764],"nice":false,"zero":false},
  "axis":{"orient":"right","labelOverlap":false,"labelBound":false,"labelFlush":false,"values":[4362.5,4365,4367.5,4370,4372.5,4375,4377.5,4380,4382.5,4385,4387.5,4390,4392.5,4395,4397.5,4400,4402.5,4405,4407.5,4410,4412.5,4415,4417.5,4420,4422.5,4425,4427.5,4430,4432.5,4435,4437.5,4440],"format":".2f"}},
 "detail":{"field":"g"}}},
{"data":{"name":"heads"},"transform":[{"filter":"datum.g=='a1'"}],"mark":{"type":"point","shape":"M0,-1L0.85,1L-0.85,1Z","filled":true,"size":680,"angle":27,"color":"#f64a4e","opacity":1,"clip":false},
 "encoding":{"x":{"field":"i","type":"quantitative","title":null,"scale":{"domain":[-0.417,301.42],"nice":false,"zero":false}},
 "y":{"field":"p","type":"quantitative","title":null,"scale":{"domain":[4360.383,4442.764],"nice":false,"zero":false},
  "axis":{"orient":"right","labelOverlap":false,"labelBound":false,"labelFlush":false,"values":[4362.5,4365,4367.5,4370,4372.5,4375,4377.5,4380,4382.5,4385,4387.5,4390,4392.5,4395,4397.5,4400,4402.5,4405,4407.5,4410,4412.5,4415,4417.5,4420,4422.5,4425,4427.5,4430,4432.5,4435,4437.5,4440],"format":".2f"}}}},
{"data":{"name":"heads"},"transform":[{"filter":"datum.g=='a2'"}],"mark":{"type":"point","shape":"M0,-1L1,1L-1,1Z","filled":true,"size":790,"angle":162,"color":"#f64a4e","opacity":1,"clip":false},
 "encoding":{"x":{"field":"i","type":"quantitative","title":null,"scale":{"domain":[-0.417,301.42],"nice":false,"zero":false}},
 "y":{"field":"p","type":"quantitative","title":null,"scale":{"domain":[4360.383,4442.764],"nice":false,"zero":false},
  "axis":{"orient":"right","labelOverlap":false,"labelBound":false,"labelFlush":false,"values":[4362.5,4365,4367.5,4370,4372.5,4375,4377.5,4380,4382.5,4385,4387.5,4390,4392.5,4395,4397.5,4400,4402.5,4405,4407.5,4410,4412.5,4415,4417.5,4420,4422.5,4425,4427.5,4430,4432.5,4435,4437.5,4440],"format":".2f"}}}}
]
}
